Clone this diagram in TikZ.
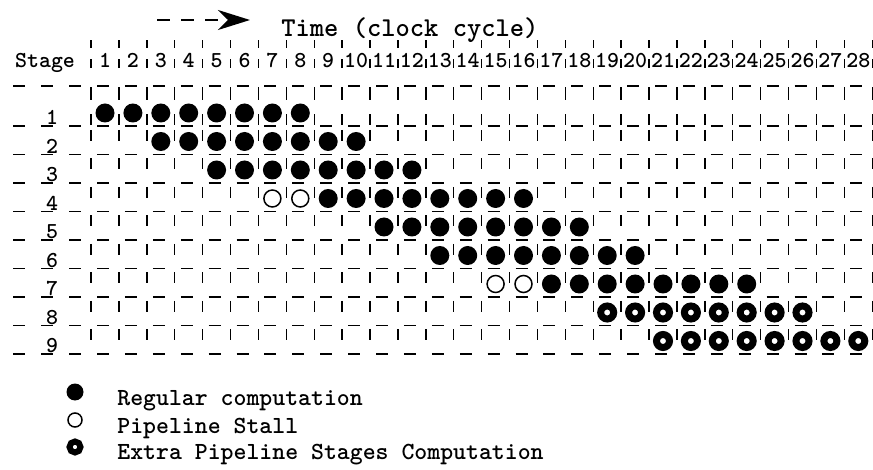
\documentclass[tikz,border=0pt]{standalone}
\usetikzlibrary{arrows.meta}
\tikzset{
  regular/.style={fill=black},
  stall/.style={draw=black,fill=white,line width=0.75pt},
  extra/.style={draw=black,fill=white,line width=3.5pt},
  gridline/.style={line width=0.7pt},
}
\newcommand{\ttsize}[1]{\ttfamily\bfseries\fontsize{#1}{#1}\selectfont}

\begin{document}
\begin{tikzpicture}[x=0.5pt,y=-0.5pt,font=\ttsize{11.4pt},every node/.style={inner sep=0pt}]
  \useasboundingbox (0,0) rectangle (873,470);
  % heading
  \coordinate (arrowtail) at (157,20);
  \coordinate (arrowhead) at (250,20);
  \draw[line width=1pt,dash pattern=on 6.5pt off 5.5pt,-{Stealth[length=16pt,width=10pt,inset=5pt]}] (arrowtail) -- (arrowhead);
  \node[anchor=base west,font=\ttsize{13.6pt}] (title) at (281,37) {Time (clock cycle)};
  \begin{scope}[shift={(77.1,84.5)},x=13.95pt,y=-14.25pt]
    % dashed grid
    \foreach \c in {0,...,28} {
      \draw[gridline,dash pattern=on 4pt off 5.5pt on 4.5pt off 9.5pt on 6.5pt off 7pt on 5.5pt off 3pt] (\c+0.5,-1.56) -- (\c+0.5,1.456);
      \draw[gridline,dash pattern=on 5.5pt off 8.75pt,dash phase=12.25pt] (\c+0.5,1.456) -- (\c+0.5,9.456);
    }
    \draw[gridline,dash pattern=on 6pt off 7.95pt,dash phase=10.95pt] (-2.5,0.053) -- (28.5,0.053);
    \foreach \r in {1,...,9}
      \draw[gridline,dash pattern=on 6pt off 7.95pt,dash phase=10.95pt] (-2.5,\r+0.456) -- (28.5,\r+0.456);
    % labels
    \node[anchor=base] (stagelbl) at (-1.15,-0.58) {Stage};
    \foreach \c in {1,...,28}
      \node[anchor=base] (col\c) at (\c,-0.58) {\c};
    \foreach \r in {1,...,9}
      \node[anchor=base] (row\r) at (-0.9,\r+0.42) {\r};
    % computations
    \foreach \r/\a/\b in {1/1/8,2/3/10,3/5/12,4/9/16,5/11/18,6/13/20,7/17/24}
      \foreach \c in {\a,...,\b}
        \fill[regular] (\c,\r) circle (4.75pt);
    \foreach \c/\r in {7/4,8/4,15/7,16/7}
      \draw[stall] (\c,\r) circle (4.25pt);
    \foreach \r/\a/\b in {8/19/26,9/21/28}
      \foreach \c in {\a,...,\b}
        \draw[extra] (\c,\r) circle (3.25pt);
  \end{scope}
  % legend
  \fill[regular] (75,392) circle (4.25pt);
  \draw[stall] (75,420) circle (3.5pt);
  \draw[extra,line width=3pt] (75,447) circle (2.75pt);
  \node[anchor=base west,font=\ttsize{12.3pt}] (lregular) at (117,405) {Regular computation};
  \node[anchor=base west,font=\ttsize{12.3pt}] (lstall) at (117,433) {Pipeline Stall};
  \node[anchor=base west,font=\ttsize{12.3pt}] (lextra) at (117,459) {Extra Pipeline Stages Computation};
\end{tikzpicture}
\end{document}
